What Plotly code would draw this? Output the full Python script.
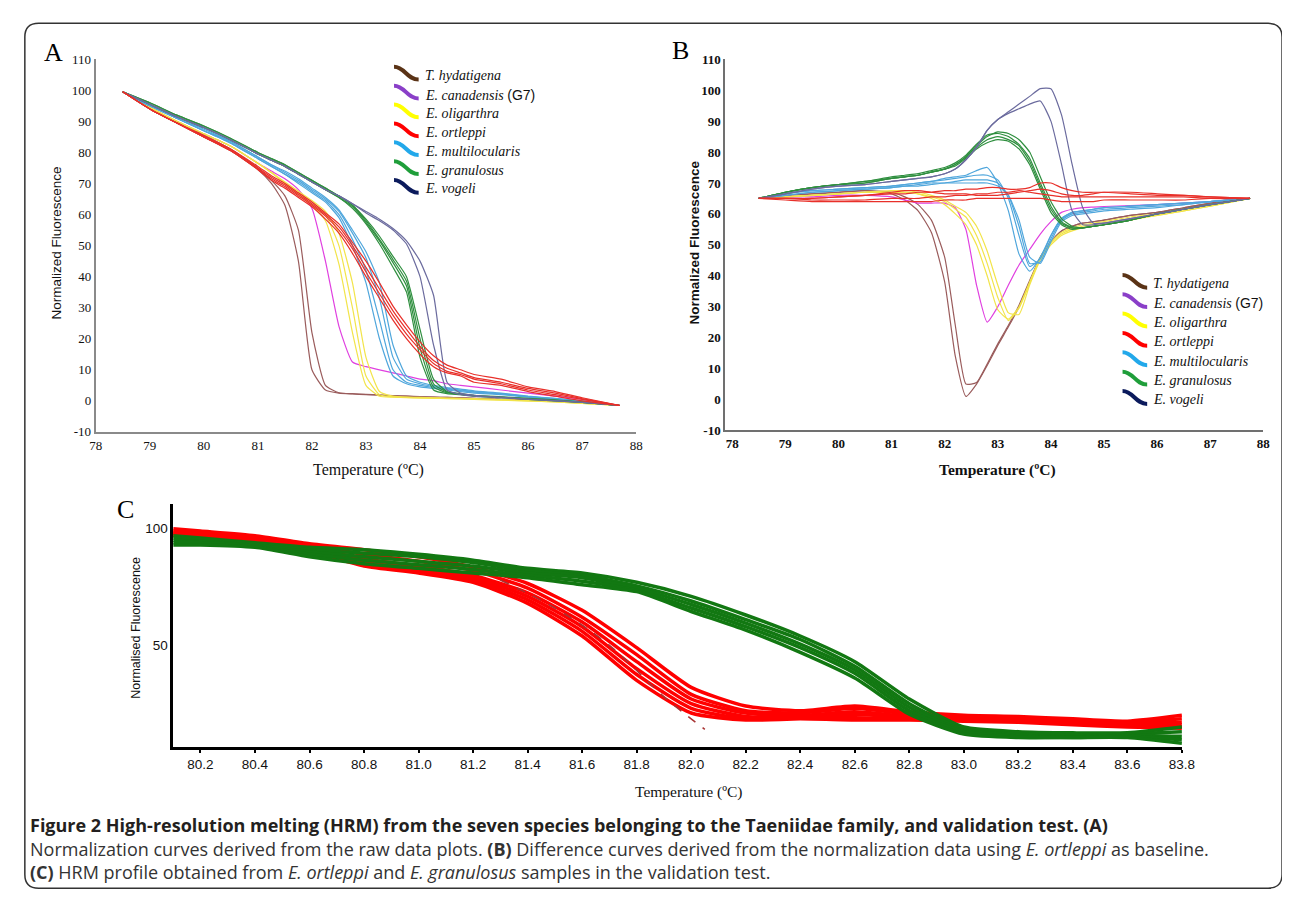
import plotly.graph_objects as go

FW, FH = 1290, 897
def px(x): return x / FW
def py(y): return 1 - y / FH

# ---------------- Panel A : normalization curves ----------------
TA = [78.5, 79, 79.5, 80, 80.5, 81, 81.25, 81.5, 81.75, 82, 82.25, 82.5, 82.75, 83,
      83.25, 83.5, 83.75, 84, 84.25, 84.5, 84.75, 85, 85.5, 86, 86.5, 87, 87.7]

A_hyd_1 = [99.5, 94, 89.5, 85, 80.5, 74.5, 70, 63, 45, 10, 3.5, 2.5, 2.2, 2, 1.8, 1.6, 1.5, 1.3, 1.2, 1.1, 1, 0.8, 0.5, 0.3, 0, -0.5, -1.5]
A_hyd_2 = [99.5, 94, 89.5, 85.5, 81, 75, 71, 66, 55, 22, 5, 2.6, 2.3, 2.1, 1.9, 1.7, 1.5, 1.4, 1.2, 1.1, 1, 0.8, 0.5, 0.3, 0, -0.5, -1.5]
A_can_1 = [99.5, 94.5, 90, 86, 82, 76.5, 74, 71.5, 68, 62, 45, 24, 12.5, 11, 10, 9, 8, 7, 6.5, 5.5, 5, 4.5, 3.5, 2.5, 1.5, 0.5, -1.5]
A_oli_1 = [99.5, 94.5, 90, 86, 82, 76.5, 73.5, 70, 66.5, 63, 58, 44, 22, 5, 1.5, 1.2, 1, 0.9, 0.8, 0.7, 0.6, 0.5, 0.2, 0, -0.3, -0.8, -1.5]
A_oli_2 = [99.5, 94.5, 90, 86, 82, 76.5, 73.5, 70, 67, 64, 60, 50, 30, 8, 2, 1.3, 1.1, 1, 0.9, 0.8, 0.7, 0.6, 0.3, 0, -0.3, -0.8, -1.5]
A_oli_3 = [99.5, 94.5, 90, 86, 82, 76.5, 73.5, 70.5, 67.5, 64.5, 61, 54, 38, 14, 3, 1.5, 1.2, 1.1, 1, 0.9, 0.8, 0.7, 0.4, 0.1, -0.2, -0.7, -1.5]
A_ort_1 = [99.5, 94, 89.5, 85, 80.5, 74.5, 71, 68.5, 65.5, 62.5, 58.5, 54, 47.5, 40, 33, 26, 20, 15, 11, 9, 8, 6, 5, 3, 1.5, 0, -1.5]
A_ort_2 = [99.5, 94, 89.5, 85, 80.5, 74.5, 71.5, 69, 66, 63, 59.5, 55, 49, 41.5, 34.5, 27.5, 21.5, 16.5, 12, 9.5, 8.5, 7, 5.5, 3.5, 2, 0.5, -1.5]
A_ort_3 = [99.5, 94, 89.5, 85, 81, 75, 72, 69.5, 66.5, 63.5, 60, 56, 50, 43, 36, 29, 23, 17.5, 13, 10.5, 9, 7.5, 6, 4, 2.5, 0.7, -1.5]
A_ort_4 = [99.5, 94, 89.5, 85.5, 81, 75.5, 72.5, 70, 67, 64, 60.5, 57, 51, 45, 38, 30.5, 24.5, 19, 14.5, 11.5, 10, 8.5, 7, 4.5, 3, 1, -1.5]
A_mul_1 = [99.5, 95, 91, 87, 83, 78, 75.5, 73, 70, 67, 64, 59, 50, 38, 20, 8, 5.5, 4.5, 4, 3.5, 3, 2.5, 2, 1.2, 0.5, -0.3, -1.5]
A_mul_2 = [99.5, 95, 91, 87, 83, 78, 75.5, 73, 70.5, 67.5, 64.5, 60, 52, 42, 26, 10, 6, 5, 4.3, 3.8, 3.3, 2.8, 2.2, 1.3, 0.6, -0.2, -1.5]
A_mul_3 = [99.5, 95, 91, 87, 83.5, 78.5, 76, 73.5, 71, 68, 65, 61, 54, 46, 33, 14, 7, 5.5, 4.6, 4, 3.5, 3, 2.3, 1.4, 0.7, -0.1, -1.5]
A_mul_4 = [99.5, 95, 91, 87.5, 83.5, 78.5, 76, 74, 71.5, 68.5, 65.5, 61.5, 55, 48, 38, 18, 8, 6, 5, 4.3, 3.8, 3.2, 2.5, 1.5, 0.8, 0, -1.5]
A_gra_1 = [99.5, 95.5, 91.5, 88, 84, 79.5, 77.5, 75.5, 73, 70.5, 68, 65.5, 62, 57, 50.5, 43, 35, 14, 3.5, 2.3, 2, 1.5, 1, 0.5, 0, -0.5, -1.5]
A_gra_2 = [99.5, 95.5, 91.5, 88, 84, 79.5, 77.5, 75.5, 73, 70.5, 68, 65.5, 62.5, 57.5, 51.5, 44.5, 37, 17, 4.5, 2.6, 2.1, 1.6, 1.1, 0.6, 0.1, -0.5, -1.5]
A_gra_3 = [99.5, 96, 92, 88.5, 84.5, 80, 78, 76, 73.5, 71, 68.5, 66, 63, 58, 52, 45.5, 38.5, 20, 5.5, 2.8, 2.2, 1.7, 1.2, 0.7, 0.2, -0.4, -1.5]
A_gra_4 = [99.5, 96, 92, 88.5, 84.5, 80, 78, 76, 73.5, 71, 68.5, 66, 63, 58.5, 53, 46.5, 40, 23, 7, 3, 2.3, 1.8, 1.3, 0.8, 0.3, -0.4, -1.5]
A_vog_1 = [99.5, 95.5, 91.5, 88, 84, 79.5, 77.5, 75.5, 73, 70.5, 68, 66, 63.5, 60.5, 58, 55, 50.5, 40, 18, 3.5, 2, 1.5, 1, 0.5, 0, -0.5, -1.5]
A_vog_2 = [99.5, 95.5, 91.5, 88, 84, 79.5, 77.5, 75.5, 73, 70.5, 68, 66, 63.5, 61, 58.5, 55.5, 51.5, 45, 34, 6, 2.5, 1.8, 1.2, 0.6, 0.1, -0.5, -1.5]

# ---------------- Panel B : difference curves ----------------
TB = [78.5, 79, 79.5, 80, 80.5, 81, 81.25, 81.5, 81.75, 82, 82.2, 82.4, 82.6, 82.8, 83,
      83.2, 83.4, 83.6, 83.8, 84, 84.2, 84.4, 84.6, 84.8, 85, 85.5, 86, 86.5, 87, 87.75]

B_hyd_1 = [65, 66, 66.5, 67, 67.5, 66.5, 64.5, 61, 54, 38, 14, 1, 5, 11, 17.5, 23.5, 30, 38, 46, 51, 54.5, 56, 57, 57.5, 58, 59.5, 60.5, 62, 63.5, 65]
B_hyd_2 = [65, 66, 66.5, 67, 67.5, 67, 65.5, 63, 58, 46, 24, 5, 5.5, 11.5, 18, 24, 30.5, 38.5, 46, 51, 54.5, 56, 57, 57.5, 58, 59.5, 60.5, 62, 63.5, 65]
B_can_1 = [65, 65.5, 65.5, 66, 66, 65.5, 64.5, 63.5, 63.5, 63.5, 62, 55, 37, 25, 30, 37, 43.5, 48.5, 53.5, 57.5, 60.5, 61.5, 62, 62.2, 62.4, 62.7, 63, 63.5, 64, 65]
B_oli_1 = [65, 65.5, 66, 66.5, 67, 67, 67, 66.5, 65, 63, 60, 56.5, 50, 40, 29, 26, 30, 38, 46, 51, 54, 55.5, 56.5, 57, 57.5, 59, 60, 61.5, 63, 65]
B_oli_2 = [65, 65.5, 66, 66.5, 67, 67, 67, 66.5, 65.5, 64, 61.5, 59, 53, 44, 33, 25.5, 29.5, 37.5, 45.5, 50.5, 53.5, 55, 56, 56.5, 57, 58.5, 59.5, 61, 62.5, 65]
B_oli_3 = [65, 65.5, 66, 66.5, 67, 67.5, 67.5, 67, 66, 64.5, 62.5, 60.5, 56, 48, 37, 28, 27.5, 37, 45, 50, 53, 54.5, 55.5, 56, 56.5, 58, 59.5, 61, 62.5, 65]
B_ort_1 = [65, 65, 64.5, 64.5, 64.5, 65, 65, 65, 65.5, 65.5, 66, 66, 66.5, 66.5, 67, 67, 67.5, 67, 66.5, 66, 65.5, 65.5, 65.5, 65.5, 65.5, 65.5, 65.5, 65.5, 65, 65]
B_ort_2 = [65, 65, 65, 65.5, 66, 66.5, 66.5, 67, 67, 67.5, 67.5, 68, 68, 68.5, 68.5, 68, 68, 68.5, 70, 70, 68.5, 67.5, 67, 67, 67, 66.5, 66, 66, 65.5, 65]
B_ort_3 = [65, 64.5, 64, 64, 64, 64, 64, 64, 64, 64.5, 64.5, 64.5, 65, 65, 65, 65, 65, 65, 65, 64.5, 64, 64, 64, 64, 64.5, 64.5, 64.5, 64.5, 65, 65]
B_ort_4 = [65, 65, 65, 65.5, 66, 67, 67.5, 67.5, 67, 66.5, 66.5, 66.5, 66, 66, 66, 66.5, 67, 67.5, 68, 67.5, 66.5, 66, 66, 66.5, 67, 67, 66.5, 66, 65.5, 65]
B_mul_1 = [65, 66.5, 67.5, 68, 68.5, 69, 69.5, 70, 70.5, 71.5, 72, 72.5, 74, 75, 70, 61, 47, 41.5, 46, 53, 58.5, 60.5, 61, 61.5, 62, 62.5, 63, 63.5, 64, 65]
B_mul_2 = [65, 66.5, 67.5, 68, 68.5, 69, 69.5, 70, 70.5, 71, 71.5, 72, 72.5, 72.5, 71, 65, 53, 43, 45.5, 53, 58.5, 60.5, 61, 61.5, 62, 62.5, 63, 63.5, 64, 65]
B_mul_3 = [65, 66, 67, 67.5, 68, 68.5, 69, 69.5, 70, 70, 70.5, 71, 71, 71, 70, 66, 56, 44, 44.5, 52, 58, 60, 60.5, 61, 61.5, 62, 62.5, 63, 64, 65]
B_mul_4 = [65, 66, 67, 67.5, 68, 68.5, 69, 69, 69.5, 70, 70, 70, 70, 70, 69, 66, 58, 46, 44, 51, 57.5, 59.5, 60, 60.5, 61, 61.5, 62, 63, 64, 65]
B_gra_1 = [65, 67, 68.5, 69.5, 70, 71.5, 72, 72.5, 73.5, 74.5, 76, 78.5, 82, 85, 86.5, 86, 84, 80, 72, 64, 58.5, 56, 55.5, 56, 56.5, 58, 60, 61.5, 63, 65]
B_gra_2 = [65, 67, 68.5, 69.5, 70.5, 72, 72.5, 73, 74, 75, 76.5, 79, 82.5, 85.5, 86, 85, 82.5, 78, 70, 62.5, 57.5, 55.5, 55.5, 56, 56.5, 58, 60, 61.5, 63, 65]
B_gra_3 = [65, 67, 68.5, 69.5, 70.5, 71.5, 72, 72.5, 73.5, 74.5, 76, 78.5, 81.5, 84, 85, 84, 82, 77, 69, 61.5, 57, 55.5, 55.5, 56, 56.5, 58, 60, 61.5, 63, 65]
B_gra_4 = [65, 67, 68.5, 69.5, 70, 71.5, 72, 72.5, 73.5, 74.5, 75.5, 78, 81, 83, 84, 83.5, 81, 76, 68, 60.5, 56.5, 55, 55.5, 56, 56.5, 58, 60, 61.5, 63, 65]
B_vog_1 = [65, 66.5, 68, 69, 69.5, 70.5, 71, 71.5, 72, 73, 74.5, 77.5, 81.5, 87, 90.5, 92.5, 94, 95.5, 96.5, 90, 76, 61, 56.5, 56.5, 57, 58.5, 60, 61.5, 63, 65]
B_vog_2 = [65, 66.5, 68, 69, 69.5, 70.5, 71, 71.5, 72, 73, 74.5, 77.5, 81.5, 87, 90.5, 93, 95.5, 98, 100.5, 100.5, 92, 76, 62, 57, 57, 58.5, 60, 61.5, 63, 65]

# ---------------- Panel C : validation HRM profile ----------------
TC = [80.1, 80.2, 80.4, 80.6, 80.8, 81.0, 81.2, 81.4, 81.6, 81.8, 82.0, 82.2, 82.4, 82.6,
      82.8, 83.0, 83.2, 83.4, 83.6, 83.8]
C_ort_1 = [100, 99, 97, 93.5, 91, 88, 83.5, 76.5, 65, 49, 32, 24, 22, 24, 21.5, 20, 19.5, 18.5, 17.5, 20]
C_ort_2 = [99, 98.5, 96.5, 93, 89, 86, 82, 74.5, 62, 46, 29, 22, 21, 23, 20.5, 19.5, 19, 18, 17, 18.5]
C_ort_3 = [98.5, 98, 96, 92, 87, 84, 80, 72.5, 60, 43, 27, 21, 20, 21.5, 19.5, 19, 18.5, 17.5, 16.5, 17]
C_ort_4 = [98, 97.5, 95, 91.5, 85.5, 83, 79, 71, 58, 40, 25, 19.5, 19.5, 20.5, 19, 18.5, 18, 17, 16, 16]
C_ort_5 = [97.5, 97, 95, 91, 84.5, 82, 78, 69.5, 56, 37.5, 23, 18.5, 19, 19, 18.5, 18, 17.5, 16.5, 15.5, 15]
C_ort_6 = [97, 96.5, 94.5, 90.5, 84, 81, 77, 68, 54, 35, 21, 18, 18.5, 18, 18, 17.5, 17, 16, 15, 14.5]
C_gra_1 = [97, 96, 94, 92, 91, 89, 86.5, 83, 81, 77, 71, 63, 54, 43, 27, 15, 13, 12.5, 12.5, 15]
C_gra_2 = [96, 95.5, 93.5, 91, 89.5, 88, 85.5, 82, 80, 75.5, 69, 61, 52.5, 41, 25, 14, 12, 11.5, 12, 13]
C_gra_3 = [95, 94.5, 93, 90, 88, 86, 84, 81, 79, 74.5, 67.5, 59.5, 50.5, 39.5, 23.5, 13.5, 11.5, 11, 11.5, 11]
C_gra_4 = [94, 94, 92.5, 89, 86.5, 84.5, 82.5, 80, 77.5, 73.5, 66, 58, 49, 38, 22, 13, 11, 10.5, 11, 9.5]
C_gra_5 = [93, 93, 92, 88, 85, 83, 81, 79, 76, 73, 64.5, 56.5, 47, 36, 20.5, 12, 10.5, 10.5, 10.5, 8]
TC_short = [81.3, 81.5, 81.7, 81.9, 82.05]
C_ort_short = [78, 66, 50, 28, 14]

A_ticks_y = [-10, 0, 10, 20, 30, 40, 50, 60, 70, 80, 90, 100, 110]
A_ticks_y_text = ["-10", "0", "10", "20", "30", "40", "50", "60", "70", "80", "90", "100", "110"]
A_ticks_x = [78, 79, 80, 81, 82, 83, 84, 85, 86, 87, 88]
C_ticks_x = [80.2, 80.4, 80.6, 80.8, 81.0, 81.2, 81.4, 81.6, 81.8, 82.0, 82.2, 82.4, 82.6, 82.8,
             83.0, 83.2, 83.4, 83.6, 83.8]
C_ticks_y = [50, 100]

species = ["T. hydatigena", "E. canadensis", "E. oligarthra", "E. ortleppi",
           "E. multilocularis", "E. granulosus", "E. vogeli"]
legend_colors = ["#5a3316", "#8a3fc8", "#ffff00", "#ff0000", "#22a8ea", "#1f9e3a", "#0b1a5c"]
line_colors = ["#9a5c5c", "#e040e0", "#f2e44a", "#e8302a", "#4fa6dc", "#2f8f3f", "#6b6b9e"]

A_curves = [[A_hyd_1, A_hyd_2], [A_can_1], [A_oli_1, A_oli_2, A_oli_3],
            [A_ort_1, A_ort_2, A_ort_3, A_ort_4], [A_mul_1, A_mul_2, A_mul_3, A_mul_4],
            [A_gra_1, A_gra_2, A_gra_3, A_gra_4], [A_vog_1, A_vog_2]]
B_curves = [[B_hyd_1, B_hyd_2], [B_can_1], [B_oli_1, B_oli_2, B_oli_3],
            [B_ort_1, B_ort_2, B_ort_3, B_ort_4], [B_mul_1, B_mul_2, B_mul_3, B_mul_4],
            [B_gra_1, B_gra_2, B_gra_3, B_gra_4], [B_vog_1, B_vog_2]]
C_red = [C_ort_1, C_ort_2, C_ort_3, C_ort_4, C_ort_5, C_ort_6]
C_green = [C_gra_1, C_gra_2, C_gra_3, C_gra_4, C_gra_5]

fig = go.Figure()

draw_order = [0, 1, 2, 4, 5, 6, 3]
for i in draw_order:
    for ys in A_curves[i]:
        fig.add_trace(go.Scatter(x=TA, y=ys, mode="lines", xaxis="x", yaxis="y",
                                 line=dict(color=line_colors[i], width=1.2, shape="spline", smoothing=0.5),
                                 showlegend=False, hoverinfo="skip"))
for i in draw_order:
    for ys in B_curves[i]:
        fig.add_trace(go.Scatter(x=TB, y=ys, mode="lines", xaxis="x2", yaxis="y2",
                                 line=dict(color=line_colors[i], width=1.2, shape="spline", smoothing=0.5),
                                 showlegend=False, hoverinfo="skip"))
for ys in C_red:
    fig.add_trace(go.Scatter(x=TC, y=ys, mode="lines", xaxis="x3", yaxis="y3",
                             line=dict(color="#ff0000", width=3.5, shape="spline", smoothing=0.6),
                             showlegend=False, hoverinfo="skip"))
fig.add_trace(go.Scatter(x=TC_short, y=C_ort_short, mode="lines", xaxis="x3", yaxis="y3",
                         line=dict(color="#a83232", width=1.5, dash="dash", shape="spline"),
                         showlegend=False, hoverinfo="skip"))
for ys in C_green:
    fig.add_trace(go.Scatter(x=TC, y=ys, mode="lines", xaxis="x3", yaxis="y3",
                             line=dict(color="#127812", width=3.5, shape="spline", smoothing=0.6),
                             showlegend=False, hoverinfo="skip"))

serif = "Liberation Serif"
sans = "Liberation Sans"

axA = dict(showgrid=False, zeroline=False, showline=True, linecolor="#8a8a8a", linewidth=2,
           ticks="", tickfont=dict(family=serif, size=13, color="#111"))
axB = dict(showgrid=False, zeroline=False, showline=True, linecolor="#707070", linewidth=2,
           ticks="", tickfont=dict(family=serif, size=13, color="#111", weight="bold"))

fig.update_layout(
    width=FW, height=FH, autosize=False,
    margin=dict(l=0, r=0, t=0, b=0),
    paper_bgcolor="white", plot_bgcolor="white",
    xaxis=dict(axA, domain=[px(82), px(631)], range=[78, 88], tickvals=A_ticks_x, anchor="y"),
    yaxis=dict(axA, domain=[py(424), py(45)], range=[-10, 110], tickvals=A_ticks_y,
               ticktext=A_ticks_y_text, anchor="x"),
    xaxis2=dict(axB, domain=[px(721.5), px(1268)], range=[77.87, 88], tickvals=A_ticks_x, anchor="y2"),
    yaxis2=dict(axB, domain=[py(422.5), py(45)], range=[-10, 110], tickvals=A_ticks_y,
                ticktext=A_ticks_y_text, anchor="x2"),
    xaxis3=dict(showgrid=False, zeroline=False, showline=True, linecolor="#000", linewidth=2.5,
                ticks="outside", ticklen=3, tickwidth=1.5, tickcolor="#000",
                tickfont=dict(family=sans, size=13.5, color="#111"),
                domain=[px(160.7), px(1185.3)], range=[80.1, 83.8], tickvals=C_ticks_x,
                tickformat=".1f", anchor="y3"),
    yaxis3=dict(showgrid=False, zeroline=False, showline=True, linecolor="#000", linewidth=2.5,
                ticks="", tickfont=dict(family=sans, size=13.5, color="#111"),
                domain=[py(744.3), py(497)], range=[6.5, 110.7], tickvals=C_ticks_y, anchor="x3"),
)

ann = []
def text(x, y, s, size, family, color="#111", xanchor="center", yanchor="middle", angle=0, weight=None):
    f = dict(family=family, size=size, color=color)
    if weight:
        f["weight"] = weight
    ann.append(dict(x=px(x), y=py(y), xref="paper", yref="paper", text=s, showarrow=False,
                    xanchor=xanchor, yanchor=yanchor, textangle=angle, font=f, borderpad=0))

# panel letters
text(39, 38, "A", 26, serif, "#000")
text(676, 36, "B", 26, serif, "#000")
text(112, 503, "C", 26, serif, "#000")
# axis titles
text(42, 232, "Normalized Fluorescence", 13.5, sans, "#111", angle=-90)
text(690, 231, "Normalized Fluorescence", 13.5, sans, "#111", angle=-90, weight="bold")
text(122, 623, "Normalised Fluorescence", 12.5, sans, "#111", angle=-90)
text(359, 463, "Temperature (ºC)", 16, serif, "#111")
text(998, 463, "Temperature (ºC)", 15.5, serif, "#111", weight="bold")
text(684, 790, "Temperature (ºC)", 15.5, serif, "#111")

shapes = []
def glyph(x0, yc, color):
    yt, yb = yc - 9, yc + 4
    path = "M {:.5f},{:.5f} C {:.5f},{:.5f} {:.5f},{:.5f} {:.5f},{:.5f}".format(
        px(x0), py(yt), px(x0 + 11), py(yt), px(x0 + 13), py(yb), px(x0 + 25), py(yb))
    shapes.append(dict(type="path", xref="paper", yref="paper", path=path,
                       line=dict(color=color, width=4)))

def legend_block(x0, y0, step):
    for k, name in enumerate(species):
        yc = y0 + k * step
        glyph(x0, yc, legend_colors[k])
        label = "<i>" + name + "</i>"
        if name == "E. canadensis":
            label += ' <span style="font-family:Liberation Sans">(G7)</span>'
        text(x0 + 30, yc, label, 14, serif, "#111", xanchor="left")

legend_block(385, 61.7, 19.2)
legend_block(1125, 273.3, 19.7)

# caption
cap_font = "Open Sans"
cap_size = 18
text(14, 824, "<b>Figure 2 High-resolution melting (HRM) from the seven species belonging to the Taeniidae family, and validation test. (A)</b>",
     cap_size, cap_font, "#231f20", xanchor="left")
text(14, 848, "Normalization curves derived from the raw data plots. <b>(B)</b> Difference curves derived from the normalization data using <i>E. ortleppi</i> as baseline.",
     cap_size, cap_font, "#333", xanchor="left")
text(14, 872, "<b>(C)</b> HRM profile obtained from <i>E. ortleppi</i> and <i>E. granulosus</i> samples in the validation test.",
     cap_size, cap_font, "#333", xanchor="left")

# rounded outer frame
def rounded_rect(x0, y0, x1, y1, r):
    pts = [
        ("M", x0 + r, y0), ("L", x1 - r, y0), ("Q", x1, y0, x1, y0 + r),
        ("L", x1, y1 - r), ("Q", x1, y1, x1 - r, y1), ("L", x0 + r, y1),
        ("Q", x0, y1, x0, y1 - r), ("L", x0, y0 + r), ("Q", x0, y0, x0 + r, y0)]
    out = []
    for p in pts:
        coords = p[1:]
        s = " ".join("{:.5f},{:.5f}".format(px(coords[j]), py(coords[j + 1])) for j in range(0, len(coords), 2))
        out.append(p[0] + " " + s)
    return " ".join(out) + " Z"

shapes.append(dict(type="path", xref="paper", yref="paper", path=rounded_rect(10, 8.5, 1287, 888, 14),
                   line=dict(color="#333", width=1.5)))

fig.update_layout(annotations=ann, shapes=shapes)
fig.write_html("out.html")
